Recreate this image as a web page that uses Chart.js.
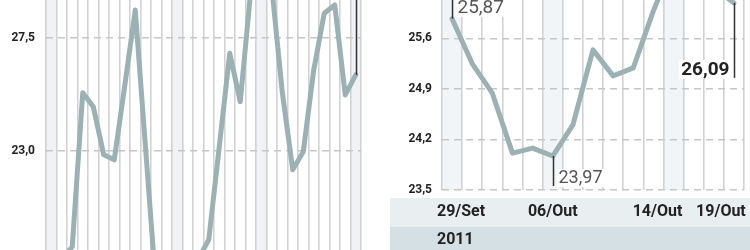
<!DOCTYPE html>
<html>
<head>
<meta charset="utf-8">
<script src="https://cdn.jsdelivr.net/npm/chart.js@4.4.1/dist/chart.umd.min.js"></script>
<style>
  html, body { margin: 0; padding: 0; background: #fff; }
  #wrap { position: relative; width: 750px; height: 250px; overflow: hidden; }
  #left { position: absolute; left: 0; top: 0; }
  #right { position: absolute; left: 380px; top: 0; }
</style>
</head>
<body>
<div id="wrap">
  <canvas id="left" width="370" height="250"></canvas>
  <canvas id="right" width="370" height="250"></canvas>
</div>
<script>
// painel esquerdo (periodo anterior, so parte visivel)
const leftDays = Array.from({ length: 30 }, (_, i) => String(i + 1));
const leftValues = [18.9, 18.64, 19.15, 25.32, 24.76, 22.83, 22.63, 25.6, 28.63, 23.0,
                    17.4, 17.0, 17.6, 18.0, 18.66, 19.43, 23.15, 26.9, 24.96, 29.4,
                    29.9, 29.55, 25.35, 22.23, 22.95, 26.23, 28.5, 28.83, 25.23, 26.03];
const leftTicks = [18.5, 23.0, 27.5];

// painel direito: 29/Set a 19/Out de 2011
const rightDays = ['29/Set', '30/Set', '03/Out', '04/Out', '05/Out', '06/Out', '07/Out', '10/Out',
                   '11/Out', '12/Out', '13/Out', '14/Out', '17/Out', '18/Out', '19/Out'];
const rightValues = [25.87, 25.25, 24.84, 24.01, 24.08, 23.97, 24.40, 25.44,
                     25.08, 25.19, 25.98, 26.67, 26.5, 26.3, 26.09];
const rightTicks = [23.5, 24.2, 24.9, 25.6];
const shownDays = ['29/Set', '06/Out', '14/Out', '19/Out'];
const yearLabel = '2011';

const LINE = '#9bb1b4';
const GRID_V = '#d2d2d2';
const GRID_H = '#c6c6c6';
const TEXT = '#222';
const fmt = v => v.toFixed(2).replace('.', ',');

// colunas sombreadas + faixas do rodape
const bandsPlugin = {
    id: 'bands',
    beforeDraw(chart, args, opts) {
        const { ctx, chartArea, scales: { x } } = chart;
        const half = (x.getPixelForValue(1) - x.getPixelForValue(0)) / 2;
        ctx.save();
        ctx.fillStyle = opts.color;
        (opts.columns || []).forEach(i => {
            const cx = x.getPixelForValue(i);
            ctx.fillRect(cx - half, chartArea.top, half * 2, chartArea.bottom - chartArea.top);
        });
        (opts.rows || []).forEach(r => {
            ctx.fillStyle = r.color;
            ctx.fillRect(r.x, r.y, chart.width - r.x, r.h);
        });
        ctx.restore();
    }
};

// linhas de destaque com valor
const calloutPlugin = {
    id: 'callouts',
    afterDatasetsDraw(chart, args, opts) {
        const { ctx, chartArea } = chart;
        const meta = chart.getDatasetMeta(0);
        ctx.save();
        (opts.items || []).forEach(c => {
            const pt = meta.data[c.index];
            const x = Math.round(pt.x) + 0.5;
            const yEnd = c.up ? chartArea.top : pt.y + c.len;
            ctx.strokeStyle = '#333';
            ctx.lineWidth = 1.5;
            ctx.beginPath();
            ctx.moveTo(x, pt.y);
            ctx.lineTo(x, yEnd);
            ctx.stroke();
            if (!c.show) return;
            const text = fmt(chart.data.datasets[0].data[c.index]);
            ctx.font = c.font;
            ctx.textAlign = c.align;
            ctx.textBaseline = 'alphabetic';
            const tx = x + c.dx, ty = pt.y + c.dy;
            const w = ctx.measureText(text).width;
            const bx = c.align === 'right' ? tx - w - 2 : tx - 2;
            ctx.fillStyle = '#fff';
            ctx.fillRect(bx, ty - c.size, w + 4, c.size + 4);
            ctx.fillStyle = c.color;
            ctx.fillText(text, tx, ty);
        });
        ctx.restore();
    }
};

// datas do eixo x e o ano
const dateLabelsPlugin = {
    id: 'dateLabels',
    afterDraw(chart, args, opts) {
        const { ctx, scales: { x } } = chart;
        ctx.save();
        ctx.fillStyle = TEXT;
        ctx.font = 'bold 16px Roboto';
        ctx.textAlign = 'center';
        ctx.textBaseline = 'middle';
        shownDays.forEach((d, k) => {
            const i = rightDays.indexOf(d);
            ctx.fillText(d, x.getPixelForValue(i) + opts.nudge[k], opts.dateY);
        });
        ctx.textAlign = 'left';
        ctx.fillText(yearLabel, opts.yearX, opts.yearY);
        ctx.restore();
    }
};

function xScale(height) {
    return {
        type: 'category',
        offset: true,
        grid: { offset: true, color: GRID_V, lineWidth: 1.6, drawTicks: false },
        border: { display: false },
        ticks: { display: false, autoSkip: false },
        afterFit: s => { s.height = height; s.paddingLeft = 0; s.paddingRight = 0; }
    };
}

function yScale(min, max, ticks, width, pad) {
    return {
        min: min,
        max: max,
        afterBuildTicks: s => { s.ticks = ticks.map(v => ({ value: v })); },
        grid: { color: GRID_H, lineWidth: 1.5, drawTicks: false },
        border: { display: false, dash: [7, 5] },
        ticks: {
            padding: pad,
            color: TEXT,
            font: { family: 'Roboto', weight: 'bold', size: 12 },
            callback: v => v.toFixed(1).replace('.', ',')
        },
        afterFit: s => { s.width = width; s.paddingTop = 0; s.paddingBottom = 0; }
    };
}

function lineDataset(values) {
    return {
        data: values,
        borderColor: LINE,
        borderWidth: 5,
        pointRadius: 0,
        tension: 0,
        borderJoinStyle: 'round',
        borderCapStyle: 'round',
        clip: 0
    };
}

new Chart(document.getElementById('left'), {
    type: 'line',
    data: { labels: leftDays, datasets: [lineDataset(leftValues)] },
    options: {
        responsive: false,
        animation: false,
        layout: { padding: { left: 0, right: 9, top: 0, bottom: 0 } },
        plugins: {
            legend: { display: false },
            tooltip: { enabled: false },
            bands: { color: '#f1f2f6', columns: [0, 12, 20, 29] },
            callouts: { items: [{ index: 29, up: true, show: false }] }
        },
        scales: { x: xScale(0), y: yScale(19.02, 29.03, leftTicks, 46, 11) }
    },
    plugins: [bandsPlugin, calloutPlugin]
});

new Chart(document.getElementById('right'), {
    type: 'line',
    data: { labels: rightDays, datasets: [lineDataset(rightValues)] },
    options: {
        responsive: false,
        animation: false,
        layout: { padding: { left: 0, right: 6, top: 0, bottom: 0 } },
        plugins: {
            legend: { display: false },
            tooltip: { enabled: false },
            bands: {
                color: '#f2f5f7',
                columns: [0, 5, 11],
                rows: [{ x: 10, y: 198, h: 29, color: '#e9eef0' }, { x: 10, y: 227, h: 23, color: '#d5e0e5' }]
            },
            callouts: {
                items: [
                    { index: 0, up: true, show: true, font: '19px Roboto', size: 14, color: '#555', align: 'left', dx: 5, dy: -6 },
                    { index: 5, len: 30, show: true, font: '18px Roboto', size: 14, color: '#555', align: 'left', dx: 5, dy: 27 },
                    { index: 14, len: 75, show: true, font: 'bold 19px Roboto', size: 15, color: TEXT, align: 'right', dx: -5, dy: 72 }
                ]
            },
            dateLabels: { nudge: [9, 0, -16, -13], dateY: 212, yearX: 57, yearY: 240 }
        },
        scales: { x: xScale(60), y: yScale(23.5, 26.13, rightTicks, 62, 10) }
    },
    plugins: [bandsPlugin, calloutPlugin, dateLabelsPlugin]
});
</script>
</body>
</html>
